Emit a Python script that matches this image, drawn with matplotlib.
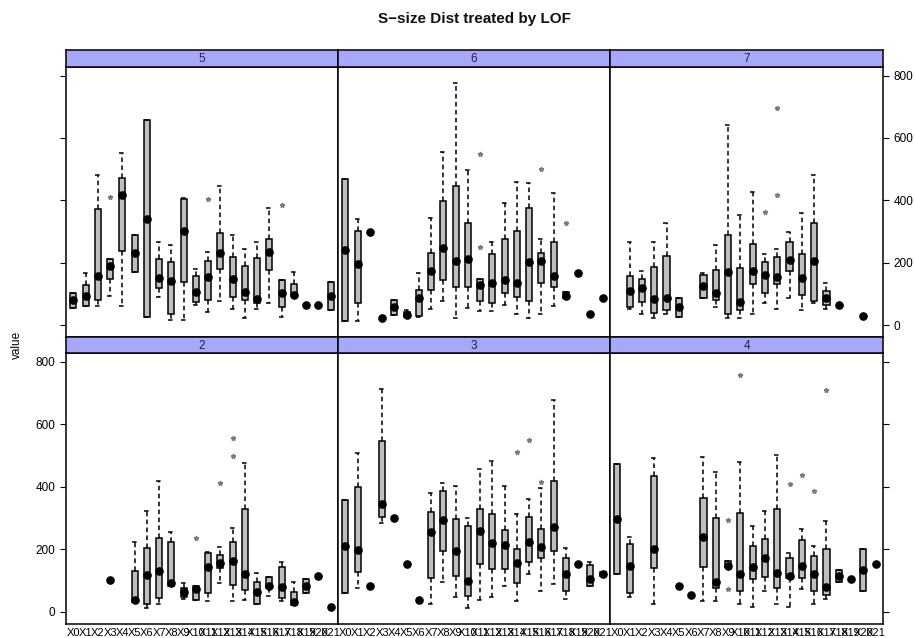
import matplotlib
matplotlib.use("Agg")
import matplotlib.pyplot as plt

plt.rcParams['font.family'] = ['Liberation Sans', 'DejaVu Sans']

categories = ["X%d" % i for i in range(22)]
yticks = [0, 200, 400, 600, 800]

# Box statistics per category: (lower whisker, Q1, median, Q3, upper whisker);
# a single number is a category with one observation, None is empty.
panel_5 = [(56, 56, 80, 102, 102), (62, 62, 94, 130, 166), (62, 82, 158, 371, 481),
           (94, 148, 189, 211, 211), (62, 238, 416, 473, 551), (169, 169, 230, 289, 289),
           (27, 27, 340, 656, 656), (91, 118, 152, 211, 268), (16, 35, 142, 203, 256),
           (16, 139, 303, 405, 409), (64, 75, 107, 157, 179), (43, 80, 155, 206, 235),
           (77, 180, 230, 294, 447), (53, 89, 147, 219, 289), (24, 80, 107, 189, 244),
           (53, 72, 83, 214, 268), (70, 176, 234, 276, 376), (25, 59, 102, 144, 144),
           (93, 93, 96, 132, 169), 64, 64, (48, 48, 93, 139, 139)]
outliers_5 = [(3, 412), (11, 403), (17, 385)]

panel_6 = [(13, 13, 241, 467, 467), (14, 70, 196, 302, 339), 299, 24,
           (31, 31, 57, 82, 82), (27, 27, 34, 42, 48), (27, 29, 88, 112, 166),
           (53, 114, 173, 232, 342), (77, 144, 246, 398, 556), (24, 122, 205, 447, 775),
           (56, 122, 211, 327, 497), (45, 77, 130, 148, 148), (45, 72, 134, 227, 268),
           (64, 102, 144, 277, 393), (35, 89, 134, 302, 460), (24, 77, 203, 376, 457),
           (35, 134, 205, 232, 276), (61, 123, 159, 268, 422), (86, 86, 95, 105, 105),
           166, 35, 86]
outliers_6 = [(11, 549), (11, 249), (16, 502), (18, 326)]

panel_7 = [None, (53, 59, 109, 157, 268), (35, 73, 118, 148, 173), (24, 40, 83, 185, 268),
           (35, 48, 88, 222, 328), (27, 27, 59, 86, 86), None, (86, 88, 125, 160, 168),
           (59, 82, 102, 176, 256), (24, 35, 169, 289, 642), (24, 48, 73, 182, 352),
           (35, 132, 173, 260, 428), (72, 102, 160, 203, 228), (53, 132, 153, 217, 244),
           (86, 173, 209, 267, 297), (48, 98, 150, 227, 360), (70, 78, 205, 326, 481),
           (53, 64, 86, 110, 136), 64, None, 29, None]
outliers_7 = [(12, 363), (13, 695), (13, 417)]

panel_2 = [None, None, None, 101, None, (32, 32, 37, 129, 224), (13, 23, 117, 203, 322),
           (23, 45, 131, 237, 418), (82, 82, 91, 224, 256), (41, 48, 64, 77, 91),
           (37, 37, 74, 82, 82), (34, 59, 142, 187, 190), (91, 141, 155, 181, 208),
           (34, 85, 163, 224, 269), (37, 69, 121, 329, 477), (25, 25, 62, 96, 123),
           (51, 75, 82, 112, 112), (34, 45, 80, 144, 158), (21, 21, 30, 62, 96),
           (59, 59, 82, 103, 103), 115, 14]
outliers_2 = [(10, 235), (12, 411), (13, 555), (13, 499)]

panel_3 = [(61, 61, 210, 357, 357), (75, 128, 197, 398, 509), 82, (285, 302, 346, 547, 713),
           299, 153, 37, (25, 107, 256, 320, 379), (96, 194, 293, 386, 411),
           (46, 115, 195, 296, 403), (13, 50, 98, 274, 299), (37, 153, 259, 327, 457),
           (46, 137, 219, 311, 482), (83, 137, 214, 261, 403), (34, 91, 157, 199, 311),
           (121, 158, 223, 302, 361), (67, 173, 206, 265, 395), (87, 195, 271, 418, 679),
           (39, 67, 121, 171, 203), 153, (82, 82, 103, 149, 158), (113, 113, 121, 128, 128)]
outliers_3 = [(14, 511), (15, 551), (16, 416)]

panel_4 = [(119, 119, 297, 473, 473), (48, 59, 147, 217, 240), None, (25, 141, 201, 435, 491),
           None, 83, 52, (34, 144, 239, 365, 494), (34, 75, 94, 299, 448),
           (142, 142, 147, 163, 163), (25, 67, 119, 316, 480), (14, 103, 142, 211, 274),
           (67, 112, 171, 233, 323), (25, 75, 125, 327, 501), (14, 107, 114, 171, 187),
           (71, 107, 146, 229, 265), (25, 67, 119, 179, 210), (39, 53, 78, 199, 291),
           (96, 96, 114, 133, 133), 103, (67, 67, 133, 199, 199), 151]
outliers_4 = [(9, 292), (9, 71), (10, 759), (14, 409), (15, 438), (16, 385), (17, 708)]

W, H = 915, 638
fig = plt.figure(figsize=(W / 100, H / 100), dpi=100)


def frac_rect(x0, y0, x1, y1):
    return [x0 / W, 1 - y1 / H, (x1 - x0) / W, (y1 - y0) / H]


col_x = [(66, 338), (338, 610), (610, 883)]
row_y = [((50, 66.5), (66.5, 337)), ((337, 352.7), (352.7, 623.5))]
layout = [[("5", panel_5, outliers_5), ("6", panel_6, outliers_6), ("7", panel_7, outliers_7)],
          [("2", panel_2, outliers_2), ("3", panel_3, outliers_3), ("4", panel_4, outliers_4)]]

strip_col = '#A8A8FA'
box_col = '#BEBEBE'
dash = (0, (3, 2.2))

for r, row in enumerate(layout):
    (s0, s1), (p0, p1) = row_y[r]
    for c, (name, stats, outs) in enumerate(row):
        x0, x1 = col_x[c]
        ax = fig.add_axes(frac_rect(x0, p0, x1, p1))
        sax = fig.add_axes(frac_rect(x0, s0, x1, s1))
        sax.set_facecolor(strip_col)
        sax.set_xticks([])
        sax.set_yticks([])
        for sp in sax.spines.values():
            sp.set_linewidth(1.1)
        sax.text(0.5, 0.45, name, ha='center', va='center', fontsize=8.5,
                 color='#222244', transform=sax.transAxes)

        bstats, pos, meds = [], [], []
        for i, s in enumerate(stats):
            if s is None:
                continue
            if not isinstance(s, tuple):
                s = (s, s, s, s, s)
            lo, q1, med, q3, hi = s
            fl = [v for (k, v) in outs if k == i]
            bstats.append(dict(whislo=lo, q1=q1, med=med, q3=q3, whishi=hi, fliers=fl))
            pos.append(i + 1)
            meds.append(med)
        ax.bxp(bstats, positions=pos, widths=0.5, patch_artist=True, manage_ticks=False,
               capwidths=0.5,
               boxprops=dict(facecolor=box_col, edgecolor='black', linewidth=1.1),
               whiskerprops=dict(color='black', linestyle=dash, linewidth=1.1),
               capprops=dict(color='black', linestyle=dash, linewidth=1.1),
               medianprops=dict(linewidth=0),
               flierprops=dict(marker='*', markersize=3.5, markerfacecolor='#7a7a7a',
                               markeredgecolor='#7a7a7a', linestyle='none'))
        ax.plot(pos, meds, 'o', color='black', markersize=5.2, zorder=5)

        ax.set_xlim(0.4, 22.6)
        ax.set_ylim(-38, 829)
        for sp in ax.spines.values():
            sp.set_linewidth(1.1)

        ax.set_yticks(yticks)
        ax.tick_params(axis='y', direction='out', length=4.3, width=0.8, pad=3.5,
                       labelsize=8.5, left=(c == 0), right=(c == 2),
                       labelleft=(c == 0 and r == 1), labelright=(c == 2 and r == 0))
        if r == 1:
            ax.set_xticks(range(1, 23))
            ax.set_xticklabels(categories)
            ax.tick_params(axis='x', length=0, pad=3, labelsize=8)
        else:
            ax.set_xticks([])

fig.text(474.5 / W, 1 - 19 / H, "S\u2212size Dist treated by LOF", ha='center', va='center',
         fontsize=11, fontweight='bold', color='#111111')
fig.text(17 / W, 1 - 345 / H, "value", rotation=90, ha='center', va='center', fontsize=8.5)

fig.savefig("out.png", dpi=100)
